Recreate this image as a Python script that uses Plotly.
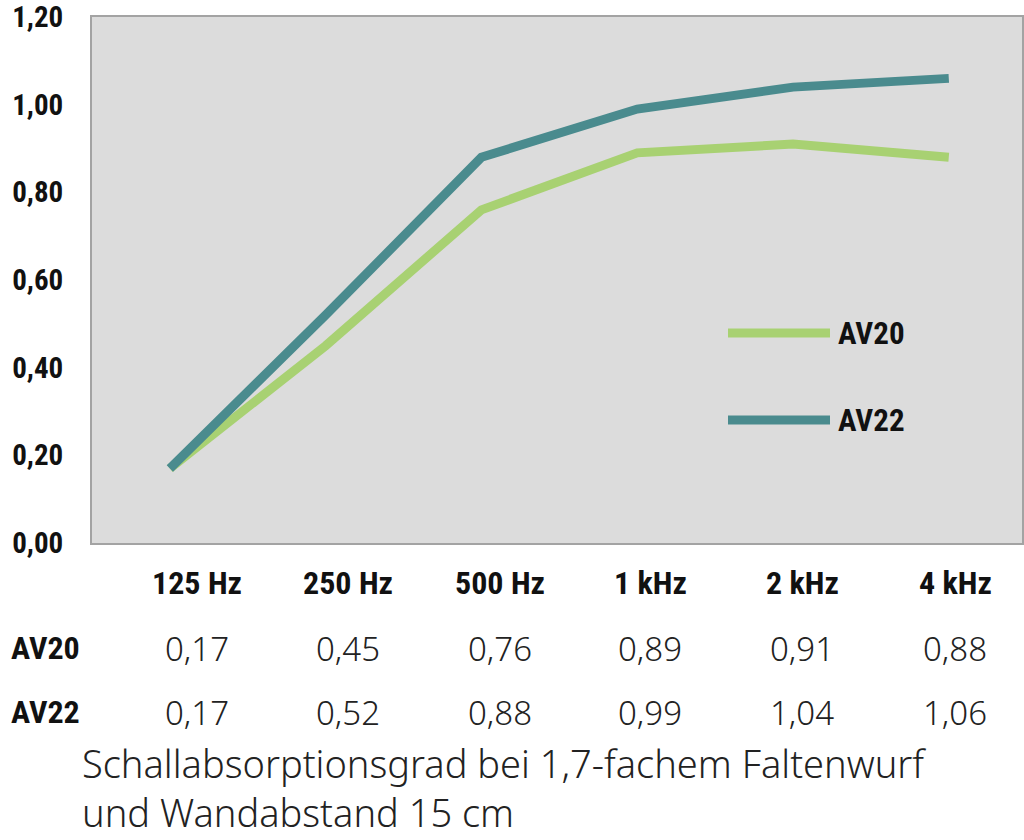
import plotly.graph_objects as go

# Frequenzbänder und Absorptionsgrade
frequenzen = ["125 Hz", "250 Hz", "500 Hz", "1 kHz", "2 kHz", "4 kHz"]
av20 = [0.17, 0.45, 0.76, 0.89, 0.91, 0.88]
av22 = [0.17, 0.52, 0.88, 0.99, 1.04, 1.06]
serien = ["AV20", "AV22"]
y_ticks = [0, 0.2, 0.4, 0.6, 0.8, 1.0, 1.2]

farben = {"AV20": "#a8d172", "AV22": "#4a8b8e"}
fett = dict(family="Liberation Sans Narrow, Roboto Condensed, Roboto", weight="bold", color="#111")
duenn = dict(family="Noto Sans", weight=300, color="#222")

W, H = 1024, 840
L, T = 92, 17
R = W - 1022
B = H - 543
pw, ph = W - L - R, H - T - B


def px_x(x):
    return (x - L) / pw


def px_y(y):
    return (H - B - y) / ph


fig = go.Figure()
for name, werte in zip(serien, [av20, av22]):
    fig.add_trace(go.Scatter(
        x=frequenzen, y=werte, mode="lines", name=name,
        line=dict(color=farben[name], width=9),
        showlegend=False, hoverinfo="x+y+name",
    ))

# Legende (lange Linien wie im Original)
for name, ypix in zip(serien, [333, 420]):
    fig.add_shape(type="line", xref="paper", yref="paper",
                  x0=px_x(728), x1=px_x(830), y0=px_y(ypix), y1=px_y(ypix),
                  line=dict(color=farben[name], width=9))
    fig.add_annotation(text=name, xref="paper", yref="paper",
                       x=px_x(836), y=px_y(ypix), xanchor="left", yanchor="middle",
                       showarrow=False, font=dict(fett, size=31))

# Tabelle unter dem Diagramm
spalten_x = [197, 348, 500, 650, 802, 955]
for f, cx in zip(frequenzen, spalten_x):
    fig.add_annotation(text=f, xref="paper", yref="paper",
                       x=px_x(cx), y=px_y(583), xanchor="center", yanchor="middle",
                       showarrow=False, font=dict(fett, size=32))
for name, werte, ypix in zip(serien, [av20, av22], [648, 712]):
    fig.add_annotation(text=name, xref="paper", yref="paper",
                       x=px_x(9), y=px_y(ypix), xanchor="left", yanchor="middle",
                       showarrow=False, font=dict(fett, size=32))
    for v, cx in zip(werte, spalten_x):
        fig.add_annotation(text=("%.2f" % v).replace(".", ","), xref="paper", yref="paper",
                           x=px_x(cx), y=px_y(ypix), xanchor="center", yanchor="middle",
                           showarrow=False, font=dict(duenn, size=33))

fig.add_annotation(
    text="Schallabsorptionsgrad bei 1,7-fachem Faltenwurf<br>und Wandabstand 15 cm",
    xref="paper", yref="paper", x=px_x(80), y=px_y(840), xanchor="left", yanchor="bottom",
    align="left", showarrow=False, font=dict(duenn, size=38))

fig.update_layout(
    width=W, height=H, margin=dict(l=L, r=R, t=T, b=B, autoexpand=False),
    paper_bgcolor="white", plot_bgcolor="#dcdcdc",
    separators=",.",
)
fig.update_xaxes(range=[-0.5, 5.47], showticklabels=False, showgrid=False, automargin=False,
                 showline=True, mirror=True, linecolor="#a3a3a3", linewidth=2, zeroline=False)
fig.update_yaxes(range=[0, 1.2], tickvals=y_ticks, tickformat=".2f", showgrid=False,
                 showline=True, mirror=True, linecolor="#a3a3a3", linewidth=2, zeroline=False,
                 ticks="", ticklabelstandoff=21, automargin=False, ticklabeloverflow="allow",
                 tickfont=dict(fett, size=29))

# Standardrand des Browsers entfernen, damit die Grafik bei 0,0 beginnt
fig.write_html("out.html", config={"displayModeBar": False},
               post_script="document.body.style.margin='0';")
